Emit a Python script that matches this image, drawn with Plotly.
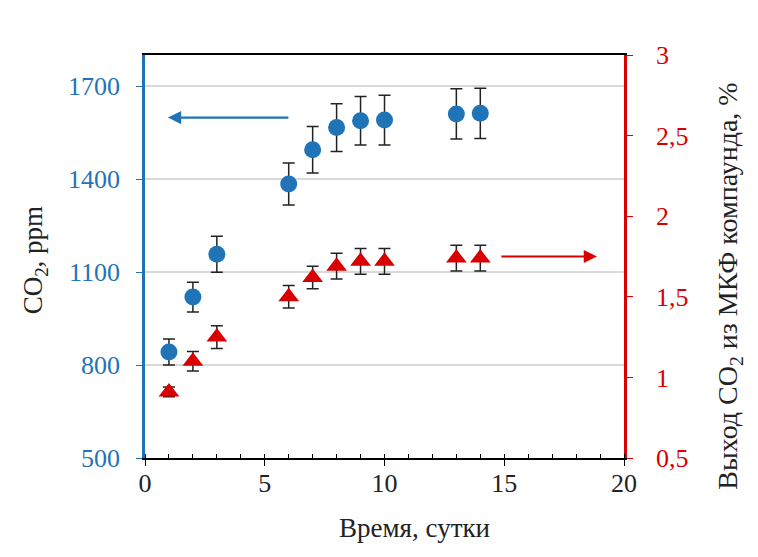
import plotly.graph_objects as go

days = [1, 2, 3, 6, 7, 8, 9, 10, 13, 14]
co2_ppm = [842, 1019, 1157, 1384, 1494, 1566, 1588, 1590, 1610, 1612]
co2_err = [42, 48, 58, 68, 75, 77, 78, 80, 81, 81]
yield_pct = [0.91, 1.10, 1.25, 1.50, 1.62, 1.69, 1.72, 1.72, 1.74, 1.74]
yield_err = [0.03, 0.06, 0.07, 0.07, 0.07, 0.08, 0.08, 0.08, 0.08, 0.08]

left_ticks = [500, 800, 1100, 1400, 1700]
right_ticks = [0.5, 1, 1.5, 2, 2.5, 3]
right_labels = ["0,5", "1", "1,5", "2", "2,5", "3"]
x_ticks = [0, 5, 10, 15, 20]

x_title = "Время, сутки"
left_title = "CO<sub>2</sub>, ppm"
right_title = "Выход CO<sub>2</sub> из МКФ компаунда, %"

BLUE = "#1F74B8"
RED = "#D80000"
FONT = "Liberation Serif, Times New Roman, serif"
TXT = "#222222"

fig = go.Figure()
fig.add_trace(go.Scatter(
    x=days, y=co2_ppm, mode="markers", yaxis="y",
    marker=dict(symbol="circle", size=17, color=BLUE),
    error_y=dict(type="data", array=co2_err, color="#222222", thickness=1.5, width=6),
    showlegend=False))
fig.add_trace(go.Scatter(
    x=days, y=yield_pct, mode="markers", yaxis="y2",
    marker=dict(symbol="triangle-up", size=18, color=RED),
    error_y=dict(type="data", array=yield_err, color="#222222", thickness=1.5, width=6),
    showlegend=False))

# arrows indicating which axis each series belongs to
fig.add_annotation(x=0.96, y=1598, ax=6.05, ay=1598, xref="x", yref="y", axref="x", ayref="y",
                   text="", showarrow=True, arrowhead=2, arrowsize=1.2, arrowwidth=2.2,
                   arrowcolor=BLUE)
fig.add_annotation(x=18.87, y=1.75, ax=14.82, ay=1.75, xref="x", yref="y2", axref="x", ayref="y2",
                   text="", showarrow=True, arrowhead=2, arrowsize=1.2, arrowwidth=2.2,
                   arrowcolor=RED)

# axis titles
fig.add_annotation(x=0.5, y=-0.174, xref="paper", yref="paper", text=x_title, showarrow=False,
                   xanchor="center", yanchor="middle", xshift=30,
                   font=dict(family=FONT, size=27, color=TXT))
fig.add_annotation(x=-0.23, y=0.49, xref="paper", yref="paper", text=left_title, showarrow=False,
                   xanchor="center", yanchor="middle", textangle=-90,
                   font=dict(family=FONT, size=27, color=TXT))
fig.add_annotation(x=1.221, y=0.427, xref="paper", yref="paper", text=right_title, showarrow=False,
                   xanchor="center", yanchor="middle", textangle=-90,
                   font=dict(family=FONT, size=28, color=TXT))

fig.update_layout(
    width=750, height=549,
    margin=dict(l=137, r=134, t=47, b=99),
    paper_bgcolor="white", plot_bgcolor="white",
    font=dict(family=FONT, size=26, color="black"),
    xaxis=dict(
        range=[0, 20], tickvals=x_ticks, ticks="outside", ticklen=6, tickcolor="black",
        showline=True, linecolor="black", linewidth=1.5, mirror=True,
        showgrid=False, zeroline=False, ticklabelstandoff=-5,
        minor=dict(dtick=1, ticks="inside", ticklen=4, tickcolor="black", showgrid=False),
        tickfont=dict(family=FONT, size=26, color=TXT),
    ),
    yaxis=dict(
        range=[500, 1800], tickvals=left_ticks, ticks="outside", ticklen=6, tickcolor=BLUE,
        showline=True, linecolor=BLUE, linewidth=2.5,
        showgrid=True, gridcolor="#D9D9D9", gridwidth=1.5, zeroline=False,
        ticklabelstandoff=11,
        tickfont=dict(family=FONT, size=26, color=BLUE),
    ),
    yaxis2=dict(
        range=[0.5, 3], tickvals=right_ticks, ticktext=right_labels,
        overlaying="y", side="right",
        ticks="outside", ticklen=6, tickcolor=RED,
        showline=True, linecolor=RED, linewidth=2.5,
        showgrid=False, zeroline=False, ticklabelstandoff=18,
        tickfont=dict(family=FONT, size=26, color=RED),
    ),
)

fig.write_html("out.html")
